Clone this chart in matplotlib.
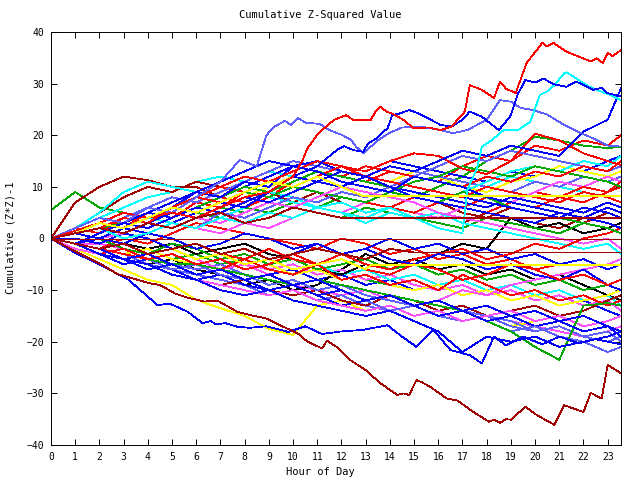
import matplotlib
matplotlib.use('Agg')
import matplotlib.pyplot as plt

plt.rcParams['font.family'] = ['DejaVu Sans Mono']

# hourly sample times (last sample is just past 23:30)
hours = [0, 1, 2, 3, 4, 5, 6, 7, 8, 9, 10, 11, 12, 13, 14, 15, 16, 17, 18, 19,
         20, 21, 22, 23, 23.55]

red_walks = [
    [0, 1, 3, 2, 5, 4, 7, 6, 9, 8, 11, 13, 12, 11, 13, 12, 11, 14, 16, 15, 18, 17, 19, 18, 20],
    [0, 2, 1, 4, 6, 5, 8, 10, 9, 8, 7, 9, 8, 7, 6, 8, 7, 6, 5, 7, 9, 8, 7, 9, 10],
    [0, -1, -2, 0, -1, 1, 3, 2, 1, 0, -1, -2, 0, -1, -3, -2, -4, -3, -5, -4, -6, -5, -4, -6, -5],
    [0, 1, 0, 2, 1, 3, 5, 7, 6, 8, 10, 9, 8, 7, 6, 5, 7, 6, 8, 7, 6, 8, 10, 9, 11],
    [0, -1, -3, -2, -4, -3, -5, -6, -4, -6, -7, -5, -8, -7, -9, -8, -10, -7, -9, -11, -10, -12, -11, -13, -12],
    [0, 2, 4, 3, 2, 4, 6, 8, 7, 9, 11, 13, 12, 14, 13, 12, 11, 10, 12, 11, 13, 12, 14, 13, 15],
    [0, -1, -2, -1, -3, -2, -1, -3, -4, -2, -4, -5, -3, -5, -6, -4, -3, -2, -4, -3, -1, -2, 0, 1, 2],
    [0, 1, 3, 5, 4, 6, 8, 7, 9, 11, 10, 12, 14, 13, 15, 16.5, 16, 13.5, 12.5, 15, 20.3, 19, 16.5, 15, 14.2],
    [0, -1, -2, -3, -4, -3, -5, -4, -6, -5, -3, -5, -4, -6, -7, -5, -6, -8, -7, -5, -6, -8, -7, -9, -8],
    [0, 1, 2, 4, 3, 6, 8, 10, 12, 11, 13, 15, 14, 12, 11, 10, 9, 8, 10, 9, 8, 7, 9, 8, 7],
]
blue_walks = [
    [0, -1, -2, -1, -3, -2, -4, -3, -5, -7, -6, -8, -7, -9, -8, -10, -9, -11, -10, -12, -11, -13, -12, -14, -15],
    [0, 1, 0, 2, 4, 6, 5, 7, 9, 8, 10, 12, 14, 13, 15, 14, 13, 12, 11, 13, 12, 14, 13, 15, 16],
    [0, -2, -3, -5, -4, -6, -8, -7, -9, -10, -9, -11, -13, -12, -14, -13, -15, -14, -16, -15, -17, -16, -18, -17, -18],
    [0, 1, 2, 3, 5, 4, 6, 8, 10, 12, 14, 13, 12, 11, 10, 9, 8, 7, 6, 8, 7, 6, 5, 7, 6],
    [0, 0, -1, 1, 0, -2, -1, -3, -2, -4, -3, -1, -3, -2, 0, -2, -1, -3, -2, -4, -3, -5, -4, -6, -5],
    [0, -1, -3, -4, -6, -5, -7, -6, -8, -10, -9, -11, -10, -12, -11, -13, -12, -14, -13, -15, -14, -16, -15, -17, -18],
    [0, 1, 3, 5, 4, 6, 9, 8, 11, 10, 14, 15, 13, 12, 11, 10, 9, 8, 7, 6, 5, 4, 6, 5, 4],
    [0, -1, 0, 2, 1, 0, -2, -1, 1, 0, -2, -1, -3, -2, -4, -5, -3, -4, -6, -5, -7, -8, -6, -9, -10],
    [0, 1, 2, 1, 3, 5, 4, 6, 8, 7, 9, 11, 10, 12, 14, 13, 15, 17, 16, 18, 17, 16, 20.7, 23, 29.1],
    [0, -1, -2, -4, -3, -5, -7, -6, -8, -7, -9, -8, -10, -12, -11, -13, -15, -14, -16, -15, -14, -16, -18, -17, -19],
    [0, -1, -3, -4, -5, -7, -8, -10, -11, -10, -12, -13, -14, -15, -14, -16, -18, -22, -19, -20, -19, -21, -20, -19, -18],
    [0, 2, 4, 3, 5, 7, 9, 11, 13, 15, 14, 13, 11, 10, 9, 12, 11, 10, 8, 7, 6, 5, 4, 6, 5],
    [0, 1, 0, -1, 1, 3, 5, 7, 6, 9, 12, 11, 13, 12, 10, 8, 7, 6, 5, 4, 3, 5, 4, 3, 2],
]
light_blue_walks = [
    [0, -1, -2, -3, -5, -6, -7, -8, -9, -11, -10, -12, -11, -13, -14, -13, -15, -16, -15, -17, -18, -17, -19, -18, -20],
    [0, 1, 2, 4, 6, 8, 7, 9, 11, 13, 15, 14, 13, 12, 14, 13, 12, 11, 10, 9, 11, 10, 12, 11, 12],
    [0, -1, -2, -4, -3, -5, -6, -5, -7, -9, -8, -10, -9, -11, -12, -13, -12, -14, -15, -16, -18, -17, -19, -20, -19],
    [0, 1, 0, -1, 1, 3, 2, 5, 4, 6, 8, 7, 9, 8, 10, 12, 14, 16, 15, 17, 16, 15, 14, 13, 14],
    [0, -1, -2, -3, -4, -6, -5, -7, -8, -10, -9, -11, -10, -12, -14, -13, -15, -14, -16, -18, -17, -19, -20, -22, -21],
]
green_walks = [
    [5.5, 9, 6, 5, 4, 3, 5, 4, 6, 5, 7, 6, 8, 7, 9, 8, 10, 12, 15, 17, 19.7, 19, 18, 17.5, 17.8],
    [0, -1, -2, -3, -2, -4, -3, -5, -4, -6, -5, -7, -6, -8, -9, -8, -10, -9, -11, -10, -12, -11, -13, -12, -14],
    [0, 1, 2, 1, 3, 5, 4, 6, 5, 7, 6, 5, 4, 6, 5, 4, 3, 2, 4, 3, 2, 1, 3, 2, 1],
    [0, -1, 0, -2, -3, -1, -2, -4, -3, -5, -4, -6, -5, -4, -6, -5, -7, -6, -8, -7, -9, -8, -10, -9, -10],
    [0, 1, 3, 2, 4, 6, 8, 7, 9, 8, 10, 9, 8, 7, 9, 11, 12, 14, 13, 12, 14, 13, 12, 11, 10],
    [0, -1, -2, -3, -4, -5, -5, -6, -7, -8, -9, -8, -9, -10, -11, -12, -13, -14, -16, -18, -21, -23.5, -13, -12.5, -13],
    [0, 1, 2, 3, 2, 4, 6, 8, 10, 9, 11, 13, 12, 11, 10, 8, 7, 9, 8, 6, 5, 4, 3, 2, 1],
]
magenta_walks = [
    [0, -1, -2, -3, -4, -5, -6, -5, -7, -8, -9, -10, -11, -10, -12, -13, -12, -14, -15, -16, -17, -18, -19, -18, -17],
    [0, -1, -1, -2, -3, -2, -4, -3, -5, -6, -5, -7, -6, -8, -7, -9, -10, -9, -11, -10, -12, -11, -13, -12, -14],
    [0, 1, 0, 2, 1, 3, 2, 1, 3, 2, 4, 6, 5, 7, 6, 5, 4, 6, 8, 7, 9, 11, 10, 12, 11],
    [0, -1, -2, -1, -3, -2, -4, -6, -5, -7, -9, -8, -10, -12, -11, -13, -12, -10, -11, -9, -8, -7, -6, -5, -4],
    [0, -2, -3, -4, -5, -7, -8, -9, -10, -11, -10, -12, -13, -14, -13, -15, -14, -16, -15, -14, -16, -15, -17, -16, -15],
    [0, -1, 0, 1, 3, 2, 4, 3, 5, 7, 6, 8, 10, 9, 8, 7, 5, 4, 3, 2, 1, 0, -1, 0, -2],
]
cyan_walks = [
    [0, 2, 4, 6, 8, 9, 11, 12, 11, 13, 12, 14, 13, 12, 11, 13, 12, 11, 10, 12, 11, 10, 9, 8, 7],
    [0, -1, -2, -1, -3, -2, -4, -3, -5, -4, -6, -5, -7, -6, -8, -7, -9, -8, -10, -9, -11, -10, -12, -11, -13],
    [0, 1, 3, 2, 4, 3, 2, 4, 6, 8, 7, 6, 5, 4, 6, 5, 7, 9, 11, 13, 14, 13, 15, 14, 16],
    [0, 2, 5, 9, 11, 10, 9, 8, 7, 9, 8, 6, 7, 5, 6, 4, 5, 3, 2, 1, 0, -1, -2, -1, -3],
]
dark_red_walks = [
    [0, 2, 5, 8, 10, 9, 11, 10, 9, 8, 10, 9, 8, 7, 6, 8, 7, 5, 4, 6, 5, 4, 3, 5, 4],
    [0, 7, 10, 12, 11.3, 10, 10, 8, 10, 9, 7, 9, 7, 5, 6, 4, 5, 3, 5, 4, 3, 2, 4, 3, 2],
    [0, -1, -2, -4, -5, -7, -8, -9, -8, -10, -11, -10, -12, -13, -11, -12, -14, -13, -15, -14, -13, -15, -14, -12, -11],
]
yellow_walks = [
    [0, -2, -4, -6, -8, -9, -11.9, -13.5, -15, -17.5, -18.7, -13, -12, -14, -13, -15, -14, -16, -15, -17, -16, -15, -17, -16, -15],
    [0, 1, 2, 1, 3, 5, 4, 6, 8, 10, 12, 11, 10, 12, 11, 13, 12, 10, 9, 11, 12, 14, 13, 12, 13],
    [0, -1, -2, -3, -2, -4, -5, -4, -6, -5, -7, -6, -8, -7, -9, -10, -9, -11, -10, -12, -11, -13, -12, -11, -10],
]
black_walks = [
    [0, -1, -2, -4, -5, -4, -6, -7, -9, -8, -10, -9, -6, -3, -5, -4, -6, -5, -7, -6, -8, -7, -9, -11, -12],
    [0, 1, 0, -1, -2, -1, -3, -2, -1, -3, -4, -6, -7, -5, -6, -4, -3, -1, -2, 4, 2, 3, 1, 2, 3],
]

# the extreme days, read at finer time resolution
top_red_t = [0, 1, 2, 3, 4, 5, 6, 7, 8, 9, 10, 10.4, 10.6, 11.05, 11.7, 12.2, 12.5, 13.2, 13.45, 13.6,
             13.9, 14.1, 14.55, 14.97, 15.6, 16.1, 16.55, 17.1, 17.3, 17.8, 18.3, 18.55, 18.8, 19.2,
             19.65, 20.3, 20.5, 20.75, 21.3, 22.3, 22.55, 22.8, 23.0, 23.2, 23.55]
top_red_v = [0, 1.5, 3, 2, 4, 5, 4, 6, 8, 9, 12, 15.2, 17.5, 20.4, 23, 23.9, 22.9, 22.9, 24.9, 25.5,
             24.5, 24.2, 23, 21.4, 21.5, 21, 21.7, 24.6, 29.7, 28.8, 27.2, 30.4, 29, 28.2,
             34, 37.9, 37.2, 37.9, 36.2, 34.3, 34.9, 34, 36, 35.3, 36.5]

top_blue_t = [0, 1, 2, 3, 4, 5, 6, 7, 8, 9, 10, 11, 11.8, 12.1, 12.5, 12.9, 13.1, 13.45, 13.7, 13.9,
              14.1, 14.4, 14.8, 15.2, 16.1, 16.55, 17.0, 17.3, 17.8, 18.5, 18.97, 19.3, 19.6, 20.0,
              20.35, 20.75, 21.3, 21.7, 22.4, 22.75, 22.95, 23.55]
top_blue_v = [0, -1, 1, 3, 2, 4, 6, 5, 7, 9, 12, 14, 17.1, 17.9, 17.1, 16.8, 18.4, 19.4, 20.6, 21.3,
              23.9, 24.2, 24.9, 24.2, 22, 21.7, 23, 24.6, 23.6, 21, 23.6, 28.1, 30.7, 30.2,
              31, 29.9, 29.4, 30.4, 28.8, 29.2, 28.2, 27.5]

top_cyan_t = [0, 1, 2, 3, 4, 5, 6, 7, 8, 9, 10, 11, 12, 13, 14, 15, 16, 17, 17.2, 17.6, 17.8, 18.2,
              18.7, 19.3, 19.8, 20.0, 20.2, 20.5, 20.8, 21.2, 21.3, 21.7, 22.2, 22.7, 23.1, 23.55]
top_cyan_v = [0, 1, 2, 0, 1, 3, 2, 4, 3, 5, 4, 6, 5, 3, 5, 4, 2, 1, 9.4, 13.6, 17.8, 19,
              21, 21, 22.6, 25.2, 27.8, 28.5, 29.7, 32, 32.2, 31, 29.5, 28.5, 27.8, 26.8]

top_light_blue_t = [0, 1, 2, 3, 4, 5, 6, 7, 7.8, 8.5, 8.9, 9.2, 9.67, 9.9, 10.2, 10.55, 11.1, 11.5,
                    12, 12.4, 12.6, 12.9, 13.5, 14, 14.5, 15.25, 16.1, 16.6, 17.2, 18.0, 18.55,
                    19.0, 19.4, 19.9, 20.5, 21.2, 21.9, 22.4, 23, 23.55]
top_light_blue_v = [0, 2, 4, 3, 6, 5, 8, 11, 15.2, 14, 20, 21.6, 22.8, 22, 23.3, 22.4, 22.2, 21,
                    20.1, 19.1, 17.8, 16.5, 19, 20.5, 21.5, 21.7, 21, 20.4, 21, 23, 26.8,
                    26.5, 25.3, 24.9, 24, 22, 20.4, 19.4, 18, 17.8]

low_dark_red_t = [0, 1, 2, 2.75, 4.1, 4.5, 5.1, 5.6, 6.33, 6.9, 7.7, 8.3, 8.9, 9.6, 10.2, 10.6, 11.2,
                  11.4, 11.8, 12.35, 13.0, 13.6, 14.3, 14.55, 14.8, 15.1, 15.3, 15.66, 16.35, 16.8,
                  17.45, 18.1, 18.3, 18.55, 18.8, 19.0, 19.6, 20.07, 20.8, 21.2, 22.0, 22.3, 22.75,
                  23.0, 23.55]
low_dark_red_v = [0, -2.5, -4.8, -6.9, -8.7, -9.0, -10.6, -11.4, -12.2, -12.1, -14.2, -14.9, -15.5,
                  -17.1, -18.4, -20.0, -21.3, -19.8, -21, -23.5, -25.5, -28, -30.3, -30, -30.3,
                  -27.4, -27.8, -28.7, -31, -31.4, -33.6, -35.5, -35.1, -35.7, -35.0, -35.1, -32.6,
                  -34.2, -36.1, -32.3, -33.6, -29.9, -31, -24.5, -26.1]

low_blue_t = [0, 1, 2, 3.2, 4.4, 4.9, 5.65, 6.27, 6.6, 6.8, 7.2, 7.7, 8.2, 8.9, 9.8, 10.5, 11.2, 12,
              12.9, 13.9, 14.5, 15.1, 15.8, 16.5, 17.3, 17.8, 18.3, 18.8, 19.5, 20.3, 21, 21.8,
              22.5, 23.55]
low_blue_v = [0, -2.8, -5, -8, -12.9, -12.6, -14.2, -16.4, -16, -16.6, -16.4, -17.1, -17.3, -17,
              -18.1, -17, -18.5, -18, -17.7, -16.8, -19, -21, -17.7, -21.6, -22.6, -24.2, -19,
              -20.7, -19, -20.5, -19, -20.3, -19.5, -20.5]

# days whose readings stop changing part way through
flat_red_t = [0, 1, 2, 3, 4, 5, 6, 7, 8, 9, 10, 11, 12, 12.3, 23.55]
flat_red_v = [0, 1, 2, 1, 3, 2, 4, 5, 3, 4, 6, 5, 4, 3.9, 3.9]
flat_yellow_hi_t = [0, 1, 2, 3, 4, 5, 6, 7, 8, 9, 10, 11, 12, 12.9, 23.55]
flat_yellow_hi_v = [0, 1, 3, 2, 4, 6, 5, 7, 9, 11, 10, 12, 10, 8.2, 8.2]
flat_yellow_lo_t = [0, 1, 2, 3, 4, 5, 6, 7, 8, 9, 10, 11, 12, 13, 13.2, 23.55]
flat_yellow_lo_v = [0, -1, -2, -1, -3, -2, -4, -3, -5, -4, -6, -5, -4, -6, -5.2, -5.2]
flat_dark_red_t = [0, 1, 2, 3, 4, 5, 6, 7, 8, 9, 10, 11, 12, 13, 14, 15, 23.55]
flat_dark_red_v = [0, -1, -2, -1, -3, -2, -1, -3, -2, -4, -3, -2, -3, -4, -2, -2.7, -2.7]
zero_dark_red_t = [0, 23.55]
zero_dark_red_v = [-0.1, -0.1]

RED, GREEN, BLUE = '#ff0000', '#00a800', '#0000ff'
MAGENTA, CYAN, DARK_RED = '#ff50ff', '#00ffff', '#a00000'
YELLOW, BLACK, LIGHT_BLUE = '#ffff00', '#000000', '#5f5fff'

fig = plt.figure(figsize=(6.4, 4.8), dpi=100)
ax = fig.add_axes([51 / 640, 35 / 480, 570 / 640, 413 / 480])


def draw(t, v, color):
    n = min(len(t), len(v))
    ax.plot(t[:n], v[:n], color=color, lw=0.55, antialiased=False)


groups = [(red_walks, RED), (green_walks, GREEN), (blue_walks, BLUE),
          (magenta_walks, MAGENTA), (cyan_walks, CYAN), (dark_red_walks, DARK_RED),
          (yellow_walks, YELLOW), (black_walks, BLACK), (light_blue_walks, LIGHT_BLUE)]
# interleave the groups so no single colour sits on top of everything
longest = max(len(g) for g, _ in groups)
for i in range(longest):
    for walks, color in groups:
        if i < len(walks):
            draw(hours, walks[i], color)

draw(top_light_blue_t, top_light_blue_v, LIGHT_BLUE)
draw(top_cyan_t, top_cyan_v, CYAN)
draw(top_blue_t, top_blue_v, BLUE)
draw(top_red_t, top_red_v, RED)
draw(low_blue_t, low_blue_v, BLUE)
draw(low_dark_red_t, low_dark_red_v, DARK_RED)
draw(flat_yellow_hi_t, flat_yellow_hi_v, YELLOW)
draw(flat_yellow_lo_t, flat_yellow_lo_v, YELLOW)
draw(flat_red_t, flat_red_v, DARK_RED)
draw(flat_dark_red_t, flat_dark_red_v, DARK_RED)
draw(zero_dark_red_t, zero_dark_red_v, DARK_RED)

ax.set_xlim(0, 23.55)
ax.set_ylim(-40, 40)
ax.set_xticks(range(24))
ax.set_yticks(range(-40, 41, 10))
ax.tick_params(direction='in', top=True, right=True, length=4.5, width=0.7,
               labelsize=7, pad=5, colors='black')
for spine in ax.spines.values():
    spine.set_linewidth(0.7)

fig.text(0.5, 1 - 15 / 480, 'Cumulative Z-Squared Value', ha='center', va='center', fontsize=7.5)
fig.text(0.5, 1 - 472 / 480, 'Hour of Day', ha='center', va='center', fontsize=7.5)
fig.text(11 / 640, 1 - 238 / 480, 'Cumulative (Z*Z)-1', ha='center', va='center',
         rotation=90, fontsize=7.5)

fig.savefig('out.png', dpi=100)
